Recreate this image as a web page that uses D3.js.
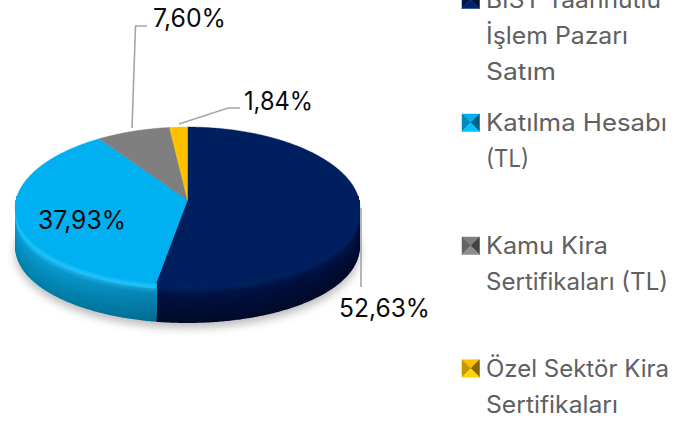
<!DOCTYPE html>
<html>
<head>
<meta charset="utf-8">
<script src="https://cdn.jsdelivr.net/npm/d3@7"></script>
<style>
html, body { margin: 0; padding: 0; background: #fff; overflow: hidden; }
svg { display: block; }
text { font-family: 'Inter', 'Noto Sans', sans-serif; }
</style>
</head>
<body>
<div id="chart"></div>
<script>
const categories = ['BIST Taahhütlü İşlem Pazarı Satım', 'Katılma Hesabı (TL)', 'Kamu Kira Sertifikaları (TL)', 'Özel Sektör Kira Sertifikaları'];
const values = [52.63, 37.93, 7.60, 1.84];
const valueLabels = ['52,63%', '37,93%', '7,60%', '1,84%'];
const legendLines = [['BIST Taahhütlü', 'İşlem Pazarı', 'Satım'], ['Katılma Hesabı', '(TL)'], ['Kamu Kira', 'Sertifikaları (TL)'], ['Özel Sektör Kira', 'Sertifikaları']];
const faceColors = ['#001f5f', '#00b0f0', '#7f7f7f', '#ffc000'];
const rimColors = ['#00225f', '#20c4fb', '#8a8a8a', '#ffc800'];
const midColors = ['#001142', '#0a9ad0', '#666666', '#c09000'];
const lowColors = ['#000a28', '#007ea8', '#555555', '#a07800'];

const WIDTH = 682, HEIGHT = 421;
const CX = 187.5, CY = 200, RX = 171.5, RY = 78.1, TILT_X = 0.1, TILT_Y = 0.07, DEPTH = 39;
const LEGEND_X = 486, MARKER_X = 462, MARKER_SIZE = 17.5, LINE_H = 36.2;
const legendTop = [8, 131, 254, 376.7];
const labelPos = [[339, 317], [38, 229], [153, 27], [244, 110]];
const labelWidth = [91, 88, 73, 69];
const legendWidth = [[175, 142, 70], [181, 43], [122, 182], [183, 132]];
const leaders = [[[361, 208], [361, 287]], [[132, 128], [135.5, 26], [147, 26]], [[179, 124], [228, 108], [240, 108]]];

const svg = d3.select('#chart').append('svg').attr('width', WIDTH).attr('height', HEIGHT);
const defs = svg.append('defs');
defs.append('filter').attr('id', 'blur').attr('x', '-10%').attr('y', '-20%').attr('width', '120%').attr('height', '140%')
	.append('feGaussianBlur').attr('stdDeviation', 4);
const sideDark = defs.append('linearGradient').attr('id', 'sideDark')
	.attr('gradientUnits', 'userSpaceOnUse').attr('x1', 30).attr('x2', 158).attr('y1', 0).attr('y2', 0);
sideDark.append('stop').attr('offset', 0).attr('stop-color', '#000').attr('stop-opacity', 0);
sideDark.append('stop').attr('offset', 1).attr('stop-color', '#000').attr('stop-opacity', 0.14);

const slices = d3.pie().sort(null).value(d => d)(values);
const line = d3.line();

// disk point seen in perspective, a is clockwise from the top
function project (a, dy) {
	const c = Math.cos(a);
	return [CX + RX * Math.sin(a) / (1 + TILT_X * c), CY + (dy || 0) - RY * c / (1 + TILT_Y * c)];
}
function arcPoints (a0, a1, dy) {
	const n = Math.max(2, Math.ceil((a1 - a0) / 0.01));
	return d3.range(n + 1).map(i => project(a0 + (a1 - a0) * i / n, dy));
}

// shadow under the pie
svg.append('path')
	.attr('d', line(arcPoints(0, 2 * Math.PI, DEPTH + 5)) + 'Z')
	.attr('fill', '#bdbdbd')
	.attr('filter', 'url(#blur)');

// side wall, filled bands stacked from the bottom up
const rows = d3.range(DEPTH, 0, -1);
slices.forEach((s, i) => {
	const a0 = Math.max(s.startAngle, Math.PI / 2 - 0.05);
	const a1 = Math.min(s.endAngle, 3 * Math.PI / 2 + 0.05);
	if (a1 <= a0) return;
	const shade = d3.scaleLinear().domain([0, 0.12, 0.3, 1])
		.range([faceColors[i], rimColors[i], midColors[i], lowColors[i]]);
	svg.append('g').selectAll('path').data(rows).join('path')
		.attr('d', d => line(arcPoints(a0, a1, d).concat(arcPoints(a0, a1, 0).reverse())) + 'Z')
		.attr('fill', d => shade(d / DEPTH));
	if (i === 1) {
		svg.append('path')
			.attr('d', line(arcPoints(a0, a1, DEPTH).concat(arcPoints(a0, a1, 6).reverse())) + 'Z')
			.attr('fill', 'url(#sideDark)');
	}
});

// top face
svg.append('g').selectAll('path').data(slices).join('path')
	.attr('d', s => line([[CX, CY]].concat(arcPoints(s.startAngle, s.endAngle))) + 'Z')
	.attr('fill', (s, i) => faceColors[i])
	.attr('stroke', (s, i) => faceColors[i])
	.attr('stroke-width', 0.4);

// leader lines
svg.append('g').selectAll('path').data(leaders).join('path')
	.attr('d', d => line(d))
	.attr('fill', 'none')
	.attr('stroke', '#a6a6a6')
	.attr('stroke-width', 1.6);

// value labels
svg.append('g').selectAll('text').data(valueLabels).join('text')
	.attr('x', (d, i) => labelPos[i][0])
	.attr('y', (d, i) => labelPos[i][1])
	.attr('font-size', 25)
	.attr('textLength', (d, i) => labelWidth[i])
	.attr('lengthAdjust', 'spacingAndGlyphs')
	.attr('fill', '#0b0b0b')
	.text(d => d);

// legend
const legend = svg.append('g').selectAll('g').data(categories).join('g')
	.attr('transform', (d, i) => 'translate(0,' + legendTop[i] + ')');

legend.each(function (d, i) {
	const g = d3.select(this);
	const s = MARKER_SIZE, m = s / 2;
	const base = d3.color(faceColors[i]);
	const tris = [
		[[[0, 0], [s, 0], [m, m]], base],
		[[[0, 0], [0, s], [m, m]], base.darker(0.7)],
		[[[s, 0], [s, s], [m, m]], base.darker(1.8)],
		[[[0, s], [s, s], [m, m]], base.brighter(0.3)]
	];
	g.append('g').attr('transform', 'translate(' + MARKER_X + ',' + (0.5 - s) + ')')
		.selectAll('path').data(tris).join('path')
		.attr('d', t => line(t[0]) + 'Z')
		.attr('fill', t => t[1])
		.attr('stroke', t => t[1])
		.attr('stroke-width', 0.5);
	g.selectAll('text').data(legendLines[i]).join('text')
		.attr('x', LEGEND_X)
		.attr('y', (t, j) => j * LINE_H)
		.attr('font-size', 24)
		.attr('textLength', (t, j) => legendWidth[i][j])
		.attr('lengthAdjust', 'spacingAndGlyphs')
		.attr('fill', '#606060')
		.text(t => t);
});
</script>
</body>
</html>
